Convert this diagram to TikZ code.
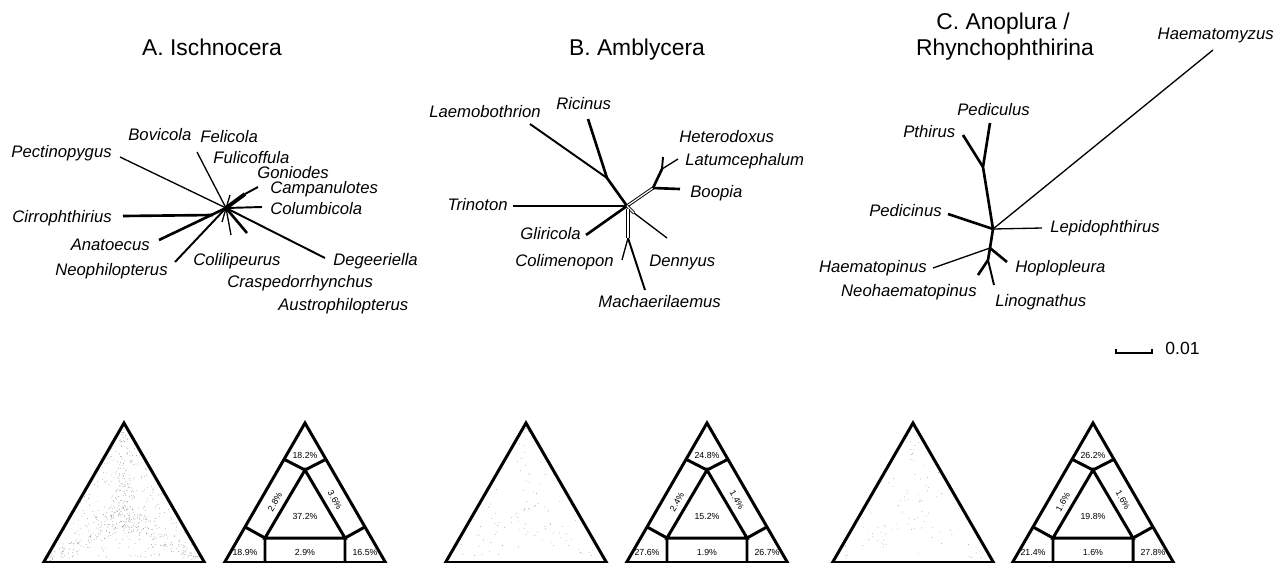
\documentclass[tikz,border=0pt]{standalone}
\usepackage{fontspec}
\setmainfont{Liberation Sans}
\usetikzlibrary{calc}

\begin{document}
\begin{tikzpicture}[x=0.02cm,y=-0.02cm,
    taxon/.style={font=\fontsize{9.5}{11}\selectfont\itshape, inner sep=0pt},
    ttl/.style={font=\fontsize{13}{14.7}\selectfont, anchor=base, inner sep=0pt},
    br/.style={line width=0.75pt},
    mid/.style={line width=1.1pt},
    thk/.style={line width=1.5pt},
    dbl/.style={double, double distance=0.7pt, line width=0.55pt},
    tri/.style={line width=1.7pt, line join=miter},
    dot/.style={black!40},
    pct/.style={font=\fontsize{5}{6}\selectfont, inner sep=0pt}]
  \useasboundingbox (0,0) rectangle (1276,562);

  % titles
  \node[ttl] (tA) at (212,55) {A. Ischnocera};
  \node[ttl] (tB) at (637,55) {B. Amblycera};
  \node[ttl] (tC) at (1003,29) {C. Anoplura /};
  \node[ttl] (tC2) at (1005,55) {Rhynchophthirina};

  % A. Ischnocera
  \coordinate (a0) at (226,208);
  \coordinate (aPec) at (120,157);
  \coordinate (aBov) at (197,152);
  \coordinate (aFul) at (230,195);
  \coordinate (aCamk) at (245,194);
  \coordinate (aCam) at (258,187);
  \coordinate (aCol) at (262,207);
  \coordinate (aDeg) at (325,258);
  \coordinate (aCra) at (247,233);
  \coordinate (aCll) at (231,235);
  \coordinate (aSd) at (222,222);
  \coordinate (aNeo) at (175,262);
  \coordinate (aAna) at (159,240);
  \coordinate (aCirk) at (213,215);
  \coordinate (aCir) at (123,216);
  \draw[br] (a0)--(aPec);
  \draw[br] (a0)--(aBov);
  \draw[br] (aSd)--(aFul);
  \draw[line width=2.2pt] (a0)--(aCamk);
  \draw[mid] (aCamk)--(aCam);
  \draw[mid] (a0)--(aCol);
  \draw[mid] (a0)--(aDeg);
  \draw[thk] (a0)--(aCra);
  \draw[br] (a0)--(aCll);
  \draw[mid] (a0)--(aNeo);
  \draw[thk] (a0)--(aAna);
  \draw[thk] (aCir)--(aCirk);
  \node[taxon,anchor=east] (lPec) at (112,153) {Pectinopygus};
  \node[taxon,anchor=west] (lBov) at (128,135) {Bovicola};
  \node[taxon,anchor=west] (lFel) at (200,137) {Felicola};
  \node[taxon,anchor=west] (lFul) at (213,158) {Fulicoffula};
  \node[taxon,anchor=west] (lGon) at (257,173) {Goniodes};
  \node[taxon,anchor=west] (lCam) at (270,189) {Campanulotes};
  \node[taxon,anchor=west] (lCol) at (270,209) {Columbicola};
  \node[taxon,anchor=east] (lCir) at (112,218) {Cirrophthirius};
  \node[taxon,anchor=east] (lAna) at (150,245) {Anatoecus};
  \node[taxon,anchor=east] (lNeo) at (168,271) {Neophilopterus};
  \node[taxon,anchor=west] (lCll) at (193,261) {Colilipeurus};
  \node[taxon,anchor=west] (lDeg) at (333,261) {Degeeriella};
  \node[taxon,anchor=west] (lCra) at (227,283) {Craspedorrhynchus};
  \node[taxon,anchor=west] (lAus) at (278,306) {Austrophilopterus};

  % B. Amblycera
  \coordinate (b0) at (627,206);
  \coordinate (bLk) at (607,178);
  \coordinate (bLae) at (530,124);
  \coordinate (bRic) at (588,119);
  \coordinate (bTri) at (513,206);
  \coordinate (bGli) at (586,235);
  \coordinate (bDt) at (628,209);
  \coordinate (bDb) at (628,238);
  \coordinate (bCol) at (622,260);
  \coordinate (bMac) at (645,290);
  \coordinate (bDs) at (634,213);
  \coordinate (bDen) at (667,238);
  \coordinate (bUk) at (653,188);
  \coordinate (bBoo) at (680,189);
  \coordinate (bHk) at (662,169);
  \coordinate (bHet) at (663,157);
  \coordinate (bLat) at (678,159);
  \draw[mid] (bLae)--(bLk);
  \draw[thk] (bRic)--(bLk)--(b0);
  \draw[br] (bTri)--(b0);
  \draw[thk] (bGli)--(b0);
  \draw[dbl] (b0)--(bUk);
  \draw[thk] (bUk)--(bBoo);
  \draw[thk] (bUk)--(bHk);
  \draw[mid] (bHk)--(bHet);
  \draw[br] (bHk)--(bLat);
  \draw[dbl] (b0)--(bDs);
  \draw[br] (bDs)--(bDen);
  \draw[dbl] (bDt)--(bDb);
  \draw[br] (bDb)--(bCol);
  \draw[mid] (bDb)--(bMac);
  \node[taxon,anchor=east] (lLae) at (541,112) {Laemobothrion};
  \node[taxon,anchor=west] (lRic) at (556,104) {Ricinus};
  \node[taxon,anchor=west] (lHet) at (679,137) {Heterodoxus};
  \node[taxon,anchor=west] (lLat) at (685,161) {Latumcephalum};
  \node[taxon,anchor=west] (lBoo) at (690,193) {Boopia};
  \node[taxon,anchor=east] (lTri) at (508,205) {Trinoton};
  \node[taxon,anchor=east] (lGli) at (581,234) {Gliricola};
  \node[taxon,anchor=west] (lDen) at (649,262) {Dennyus};
  \node[taxon,anchor=east] (lCom) at (614,262) {Colimenopon};
  \node[taxon,anchor=west] (lMac) at (598,302) {Machaerilaemus};

  % C. Anoplura / Rhynchophthirina
  \coordinate (c0) at (993,229);
  \coordinate (cPk) at (983,167);
  \coordinate (cPed) at (990,123);
  \coordinate (cPth) at (963,135);
  \coordinate (cHmz) at (1213,50);
  \coordinate (cPdc) at (948,214);
  \coordinate (cLep) at (1042,228);
  \coordinate (cLk) at (990,248);
  \coordinate (cHtp) at (933,268);
  \coordinate (cHop) at (1007,262);
  \coordinate (cLk2) at (988,260);
  \coordinate (cNeo) at (978,275);
  \coordinate (cLin) at (994,285);
  \draw[thk] (cPed)--(cPk)--(c0);
  \draw[thk] (cPth)--(cPk);
  \draw[br] (c0)--(cHmz);
  \draw[thk] (cPdc)--(c0);
  \draw[br] (c0)--(cLep);
  \draw[thk] (c0)--(cLk)--(cLk2);
  \draw[br] (cLk)--(cHtp);
  \draw[thk] (cLk)--(cHop);
  \draw[thk] (cLk2)--(cNeo);
  \draw[mid] (cLk2)--(cLin);
  \node[taxon,anchor=east] (lHmz) at (1274,35) {Haematomyzus};
  \node[taxon,anchor=west] (lPed) at (957,110) {Pediculus};
  \node[taxon,anchor=west] (lPth) at (903,132) {Pthirus};
  \node[taxon,anchor=east] (lPdc) at (942,211) {Pedicinus};
  \node[taxon,anchor=west] (lLep) at (1050,228) {Lepidophthirus};
  \node[taxon,anchor=east] (lHtp) at (927,268) {Haematopinus};
  \node[taxon,anchor=west] (lHop) at (1015,268) {Hoplopleura};
  \node[taxon,anchor=east] (lNeo2) at (977,292) {Neohaematopinus};
  \node[taxon,anchor=west] (lLin) at (995,302) {Linognathus};

  % scale bar
  \coordinate (s1) at (1116,349);
  \coordinate (s2) at (1152,349);
  \draw[br] (s1)--++(0,4)-|(s2);
  \node[font=\fontsize{10}{12}\selectfont,anchor=west,inner sep=0pt] (sc) at (1165,348) {0.01};

  % scatter triangles
  \pgfmathsetseed{11}
  \foreach \cx/\num/\nu/\sp in {124/380/260/14,526/60/40/18,913/55/35/16}{
    % spread over the whole triangle
    \foreach \i in {1,...,\nu}{
      \pgfmathsetmacro{\ua}{rnd}
      \pgfmathsetmacro{\ub}{rnd}
      \pgfmathsetmacro{\uc}{\ua+\ub>1 ? 1-\ua : \ua}
      \pgfmathsetmacro{\ud}{\ua+\ub>1 ? 1-\ub : \ub}
      \pgfmathsetmacro{\px}{\cx-77+154*\uc+77*\ud}
      \pgfmathsetmacro{\py}{558-132*\ud}
      \fill[dot] (\px,\py) circle (0.25pt);
    }
    % along the three arms and at the centre
    \foreach \i in {1,...,\num}{
      \pgfmathsetmacro{\ang}{120*random(0,2)-90}
      \pgfmathsetmacro{\tt}{rnd^1.6}
      \pgfmathsetmacro{\px}{\cx+88*\tt*cos(\ang)+\sp*(1-0.8*\tt)*rand}
      \pgfmathsetmacro{\py}{516+88*\tt*sin(\ang)+\sp*(1-0.8*\tt)*rand}
      \fill[dot] (\px,\py) circle (0.25pt);
    }
    \draw[tri] (\cx,423)--(\cx-80.5,562.5)--(\cx+80.5,562.5)--cycle;
  }

  % percentage triangles
  \foreach \cx/\pa/\pb/\pc/\pd/\pe/\pf/\pg in
      {305/18.2/2.8/3.6/37.2/18.9/2.9/16.5,
       707/24.8/2.4/1.4/15.2/27.6/1.9/26.7,
       1093/26.2/1.6/1.6/19.8/21.4/1.6/27.8}{
    \begin{scope}[shift={(\cx,0)}]
      \coordinate (ap) at (0,423);
      \coordinate (bl) at (-80.5,562.5);
      \coordinate (bri) at (80.5,562.5);
      \coordinate (ia) at (0,470);
      \coordinate (il) at (-40,538);
      \coordinate (ir) at (40,538);
      \draw[tri] (ap)--(bl)--(bri)--cycle;
      \draw[tri] (ia)--(il)--(ir)--cycle;
      \draw[tri] ($(ap)!0.26!(bl)$)--(ia)--($(ap)!0.26!(bri)$);
      \draw[tri] ($(ap)!0.745!(bl)$)--(il)--(-40,562.5);
      \draw[tri] ($(ap)!0.745!(bri)$)--(ir)--(40,562.5);
      \node[pct] (pa) at (0,455) {\pa\%};
      \node[pct,rotate=60] (pb) at (-30,502) {\pb\%};
      \node[pct,rotate=-60] (pc) at (30,500) {\pc\%};
      \node[pct] (pd) at (0,516) {\pd\%};
      \node[pct] (pe) at (-60,552) {\pe\%};
      \node[pct] (pf) at (0,552) {\pf\%};
      \node[pct] (pg) at (60,552) {\pg\%};
    \end{scope}
  }
\end{tikzpicture}
\end{document}
